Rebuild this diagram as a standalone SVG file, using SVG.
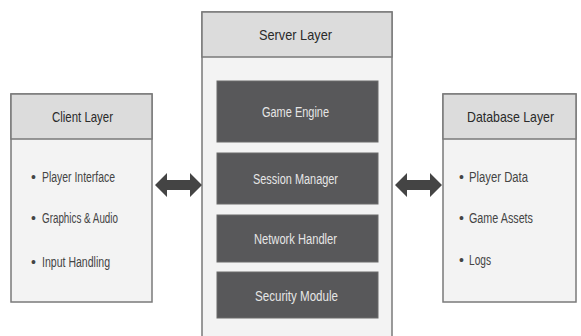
<svg xmlns="http://www.w3.org/2000/svg" width="581" height="336" viewBox="0 0 581 336">
<style>
.panel{fill:#f3f3f3;stroke:#7a7a7a;stroke-width:1.5}
.head{fill:#dcdcdc;stroke:#7a7a7a;stroke-width:1.5}
.mod{fill:#58585a;stroke:#6a6a6a;stroke-width:1}
.title{font-family:"Liberation Sans",sans-serif;font-size:15px;fill:#2a2a2a}
.item{font-family:"Liberation Sans",sans-serif;font-size:14px;fill:#444}
.modt{font-family:"Liberation Sans",sans-serif;font-size:14px;fill:#e6e6e6}
.arrow{fill:#444}
</style>
<rect width="581" height="336" fill="#ffffff"/>
<g id="client">
<rect class="panel" x="11" y="94" width="141" height="208"/>
<rect class="head" x="11" y="94" width="141" height="45"/>
<text class="title" x="52" y="122" textLength="61" lengthAdjust="spacingAndGlyphs">Client Layer</text>
<text class="item" x="31" y="182">•</text>
<text class="item" x="42" y="182" textLength="73" lengthAdjust="spacingAndGlyphs">Player Interface</text>
<text class="item" x="31" y="223">•</text>
<text class="item" x="42" y="223" textLength="76" lengthAdjust="spacingAndGlyphs">Graphics &amp; Audio</text>
<text class="item" x="31" y="267">•</text>
<text class="item" x="42" y="267" textLength="68" lengthAdjust="spacingAndGlyphs">Input Handling</text>
</g>
<g id="server">
<rect class="panel" x="202" y="12" width="190" height="330"/>
<rect class="head" x="202" y="12" width="190" height="45"/>
<text class="title" x="259" y="40" textLength="73" lengthAdjust="spacingAndGlyphs">Server Layer</text>
<g id="game-engine">
<rect class="mod" x="217" y="81" width="161" height="61"/>
<text class="modt" x="262" y="117" textLength="67" lengthAdjust="spacingAndGlyphs">Game Engine</text>
</g>
<g id="session-manager">
<rect class="mod" x="217" y="153" width="161" height="51"/>
<text class="modt" x="253" y="184" textLength="85" lengthAdjust="spacingAndGlyphs">Session Manager</text>
</g>
<g id="network-handler">
<rect class="mod" x="217" y="215" width="161" height="47"/>
<text class="modt" x="254" y="244" textLength="83" lengthAdjust="spacingAndGlyphs">Network Handler</text>
</g>
<g id="security-module">
<rect class="mod" x="217" y="272" width="161" height="46"/>
<text class="modt" x="255" y="301" textLength="83" lengthAdjust="spacingAndGlyphs">Security Module</text>
</g>
</g>
<g id="database">
<rect class="panel" x="443" y="94" width="133" height="208"/>
<rect class="head" x="443" y="94" width="133" height="45"/>
<text class="title" x="467" y="122" textLength="87" lengthAdjust="spacingAndGlyphs">Database Layer</text>
<text class="item" x="459" y="182">•</text>
<text class="item" x="469" y="182" textLength="59" lengthAdjust="spacingAndGlyphs">Player Data</text>
<text class="item" x="459" y="223">•</text>
<text class="item" x="469" y="223" textLength="64" lengthAdjust="spacingAndGlyphs">Game Assets</text>
<text class="item" x="459" y="265">•</text>
<text class="item" x="469" y="265" textLength="22" lengthAdjust="spacingAndGlyphs">Logs</text>
</g>
<g id="connectors">
<path class="arrow" d="M155,185 L167,173 L167,180 L190,180 L190,173 L202,185 L190,197 L190,190 L167,190 L167,197 Z"/>
<path class="arrow" d="M395,185 L407,173 L407,180 L430,180 L430,173 L442,185 L430,197 L430,190 L407,190 L407,197 Z"/>
</g>
</svg>
